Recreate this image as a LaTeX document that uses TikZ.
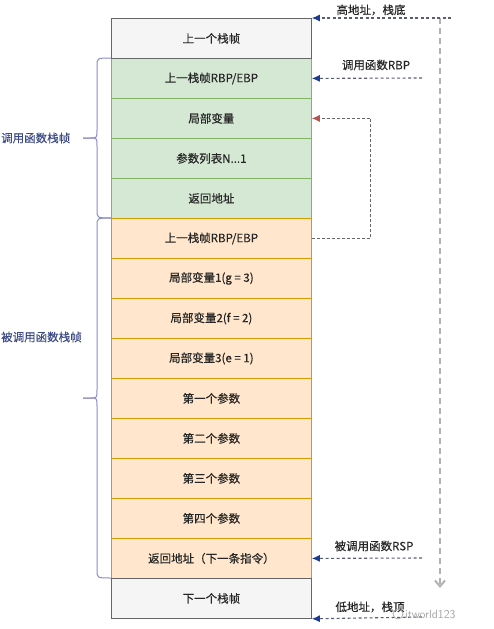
\documentclass[tikz,border=0pt]{standalone}
\usepackage{fontspec}
\newfontfamily\cjk[FakeBold=0.35]{Noto Sans CJK SC}
\usetikzlibrary{arrows.meta}
\definecolor{greyfill}{HTML}{F5F5F5}
\definecolor{greyline}{HTML}{666666}
\definecolor{greenfill}{HTML}{D5E8D4}
\definecolor{greenline}{HTML}{82B366}
\definecolor{orangefill}{HTML}{FFE6CC}
\definecolor{orangeline}{HTML}{D79B00}
\definecolor{txt}{HTML}{262626}
\definecolor{tipblue}{HTML}{1F3A93}
\definecolor{tipred}{HTML}{B85450}
\definecolor{bracecol}{HTML}{8C8CC8}
\definecolor{labelblue}{HTML}{3C4A86}
\tikzset{
  cell/.style={draw, rectangle, minimum width=200pt, minimum height=40pt,
    anchor=north west, inner sep=0pt, font=\cjk\fontsize{11.5}{13}\selectfont, text=txt, line width=0.8pt},
  greycell/.style={cell, fill=greyfill, draw=greyline},
  greencell/.style={cell, fill=greenfill, draw=greenline},
  orangecell/.style={cell, fill=orangefill, draw=orangeline},
  pointer/.style={draw=greyline!80!tipblue, dashed, dash pattern=on 3pt off 2.5pt, line width=1.1pt,
    -{Latex[length=8pt,width=7pt,color=tipblue]}},
  loop/.style={draw=greyline, dashed, dash pattern=on 3pt off 2pt, line width=0.8pt,
    -{Latex[length=8pt,width=7pt,color=tipred]}},
  growth/.style={draw=black!30, dash pattern=on 6pt off 4pt, line width=2pt,
    -{Straight Barb[length=6pt,width=10pt,line width=2pt]}},
  brace/.style={draw=bracecol, line width=1pt},
  tag/.style={font=\cjk\fontsize{11.5}{13}\selectfont, text=txt, inner sep=0pt},
  sidelabel/.style={font=\cjk\fontsize{11.5}{13}\selectfont, text=labelblue, inner sep=0pt, anchor=west},
}
\begin{document}
\begin{tikzpicture}[x=1pt,y=-1pt]
\clip (0,0) rectangle (494,629);
\fill[white] (0,0) rectangle (494,629);

% stack cells, top to bottom
\node[greencell]  (r2)  at (111,58)  {上一栈帧RBP/EBP};
\node[greencell]  (r3)  at (111,98)  {局部变量};
\node[greencell]  (r4)  at (111,138) {参数列表N...1};
\node[greencell]  (r5)  at (111,178) {返回地址};
\node[orangecell] (r6)  at (111,218) {上一栈帧RBP/EBP};
\node[orangecell] (r7)  at (111,258) {局部变量1(g = 3)};
\node[orangecell] (r8)  at (111,298) {局部变量2(f = 2)};
\node[orangecell] (r9)  at (111,338) {局部变量3(e = 1)};
\node[orangecell] (r10) at (111,378) {第一个参数};
\node[orangecell] (r11) at (111,418) {第二个参数};
\node[orangecell] (r12) at (111,458) {第三个参数};
\node[orangecell] (r13) at (111,498) {第四个参数};
\node[orangecell] (r14) at (111,538) {返回地址（下一条指令）};
\node[greycell]   (r1)  at (111,18)  {上一个栈帧};
\node[greycell]   (r15) at (111,578) {下一个栈帧};

% braces for the two frames
\draw[brace] (111,58) .. controls (97,58) .. (97,66) -- (97,130)
  .. controls (97,138) .. (90,138) -- (83,138);
\draw[brace] (83,138) -- (90,138) .. controls (97,138) .. (97,146)
  -- (97,210) .. controls (97,218) .. (111,218);
\draw[brace] (111,218) .. controls (97,218) .. (97,226) -- (97,390)
  .. controls (97,398) .. (90,398) -- (83,398);
\draw[brace] (83,398) -- (90,398) .. controls (97,398) .. (97,406)
  -- (97,570) .. controls (97,578) .. (111,578);
\node[sidelabel] (callerlbl) at (1,138) {调用函数栈帧};
\node[sidelabel] (calleelbl) at (1,337) {被调用函数栈帧};

% address direction
\coordinate (gtop) at (440,18);
\coordinate (gbot) at (440,588);
\draw[growth] (gtop) -- (gbot);

% pointers into the stack
\coordinate (hiend) at (451,18);
\coordinate (rbpend) at (422,78);
\coordinate (rspend) at (422,558);
\coordinate (loend) at (422,617);
\draw[pointer] (hiend) -- (r1.north east);
\draw[pointer] (rbpend) -- (r2.east);
\draw[pointer] (rspend) -- (r14.east);
\draw[pointer] (loend) -- (r15.south east);
\draw[loop] (r6.east) -- ++(59,0) |- (r3.east);

\node[tag] (hilbl)  at (371,10)  {高地址，栈底};
\node[tag] (rbplbl) at (376,65)  {调用函数RBP};
\node[tag] (rsplbl) at (374,546) {被调用函数RSP};
\node[tag] (lolbl)  at (370,607) {低地址，栈顶};

% signature mark
\draw[black!35, line width=0.7pt] (398,614) circle (5pt);
\node[font=\fontsize{12}{13}\selectfont\sffamily, text=black!35, anchor=west, inner sep=0pt] (mark) at (405,614) {itworld123};
\end{tikzpicture}
\end{document}
